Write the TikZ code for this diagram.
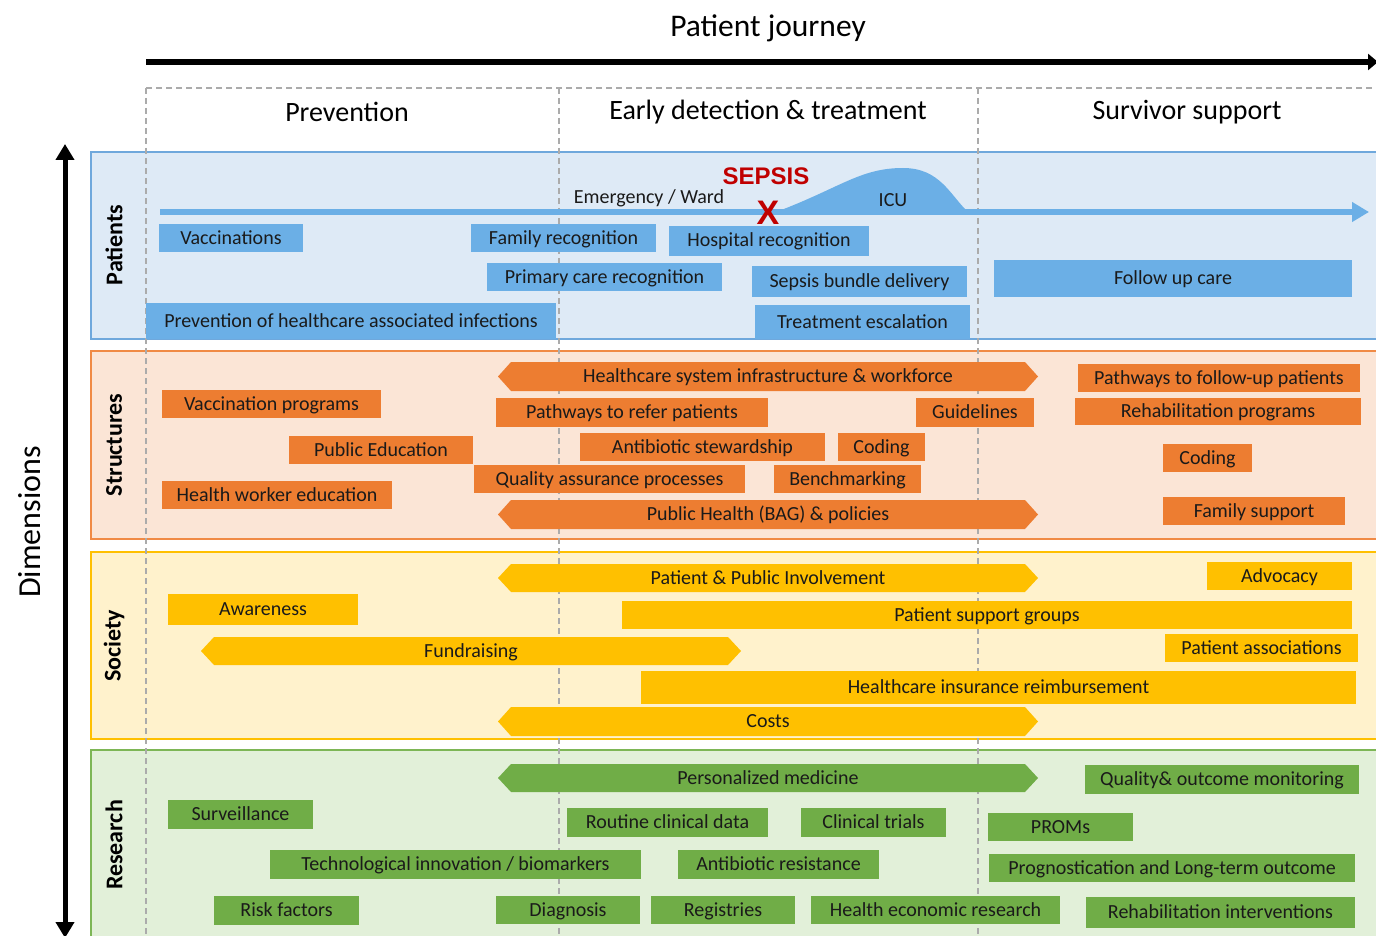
\documentclass[tikz,border=0pt]{standalone}
\usepackage{fontspec}
\setmainfont{Carlito}
\newfontfamily\arialfont{Liberation Sans}
\usetikzlibrary{arrows.meta}
\definecolor{bbox}{HTML}{6BAFE6}
\definecolor{bfill}{HTML}{DEEAF6}
\definecolor{bline}{HTML}{6FA8DC}
\definecolor{obox}{HTML}{ED7D31}
\definecolor{ofill}{HTML}{FBE5D6}
\definecolor{oline}{HTML}{F08A45}
\definecolor{ybox}{HTML}{FFC000}
\definecolor{yfill}{HTML}{FFF2CC}
\definecolor{yline}{HTML}{FFC000}
\definecolor{gbox}{HTML}{70AD47}
\definecolor{gfill}{HTML}{E2F0D9}
\definecolor{gline}{HTML}{7DB656}
\definecolor{dashgray}{HTML}{ABABAB}
\definecolor{sepsisred}{HTML}{C00000}
\definecolor{txt}{HTML}{1A1A1A}
\tikzset{
  bx/.style={inner sep=0pt, text=txt, font=\fontsize{20}{24}\selectfont, text height=15pt, text depth=3pt},
  lbl/.style={inner sep=0pt, text=txt, font=\fontsize{20}{24}\selectfont, text height=15pt, text depth=3pt},
  band/.style={line width=1.5pt},
  bandlbl/.style={rotate=90, font=\bfseries\fontsize{24}{28}\selectfont, text=black},
  colhead/.style={font=\fontsize{28}{33}\selectfont, text=black},
  grid/.style={dashgray, line width=1.5pt, dash pattern=on 6pt off 4pt}
}
\newcommand\bx[7]{\node[bx,fill=#6,minimum width={(#3-#2)*1pt},minimum height={(#5-#4)*1pt}] (#1) at ({(#2+#3)/2},{(#4+#5)/2}) {#7};}
\newcommand\hx[7]{\fill[#6] (#2,{(#4+#5)/2}) -- ({#2+13},#4) -- ({#3-13},#4) -- (#3,{(#4+#5)/2}) -- ({#3-13},#5) -- ({#2+13},#5) -- cycle;
  \node[lbl] (#1) at ({(#2+#3)/2},{(#4+#5)/2}) {#7};}
\begin{document}
\begin{tikzpicture}[x=1pt,y=-1pt]
\clip (0,0) rectangle (1376,936);
\fill[white] (0,0) rectangle (1376,936);
% titles
\node[font=\fontsize{31.5}{36}\selectfont] (pj) at (768,28) {Patient journey};
\coordinate (pjs) at (146,62);
\coordinate (pje) at (1378,62);
\draw[line width=6pt,-{Triangle[length=10pt,width=16pt]}] (pjs) -- (pje);
\node[colhead] (prev) at (347,112) {Prevention};
\node[colhead] (early) at (768,112) {Early detection \& treatment};
\node[colhead] (surv) at (1187,112) {Survivor support};
% bands
\draw[band, draw=bline, fill=bfill] (91,152) rectangle (1390,339);
\draw[band, draw=oline, fill=ofill] (91,351) rectangle (1390,539);
\draw[band, draw=yline, fill=yfill] (91,552) rectangle (1390,739);
\draw[band, draw=gline, fill=gfill] (91,750) rectangle (1390,960);
\node[bandlbl] (lp) at (114,245) {Patients};
\node[bandlbl] (ls) at (114,445) {Structures};
\node[bandlbl] (lso) at (114,646) {Society};
\node[bandlbl] (lr) at (114,845) {Research};
% dimensions arrow
\coordinate (dt) at (65,144);
\coordinate (db) at (65,938);
\draw[line width=5pt,{Triangle[length=16pt,width=18pt]}-{Triangle[length=16pt,width=18pt]}] (dt) -- (db);
\node[rotate=90,font=\fontsize{32}{37}\selectfont] (dim) at (30,522) {Dimensions};
% dashed grid
\draw[grid] (146,88) -- (1380,88);
\draw[grid] (146,88) -- (146,940);
\draw[grid] (559,88) -- (559,940);
\draw[grid] (978,88) -- (978,940);
% patient timeline
\fill[bbox] (776,212) .. controls (840,188) and (860,168) .. (903,168) .. controls (940,168) and (950,195) .. (968,212) -- cycle;
\coordinate (ts) at (160,212);
\coordinate (te) at (1369,212);
\draw[bbox, line width=6pt, -{Triangle[length=17pt,width=19pt]}] (ts) -- (te);
\node[font=\fontsize{20}{24}\selectfont, text=txt] (ew) at (649,198) {Emergency / Ward};
\node[font=\fontsize{20}{24}\selectfont, text=txt] (icu) at (893,200) {ICU};
\node[font=\arialfont\bfseries\fontsize{24}{28}\selectfont, text=sepsisred] (sep) at (766,176) {SEPSIS};
\node[font=\arialfont\bfseries\fontsize{34}{38}\selectfont, text=sepsisred, inner sep=0pt] (x) at (768,213) {X};
% patient boxes
\bx{p1}{159}{303}{224}{252}{bbox}{Vaccinations}
\bx{p2}{471}{656}{224}{252}{bbox}{Family recognition}
\bx{p3}{669}{869}{226}{256}{bbox}{Hospital recognition}
\bx{p4}{487}{722}{263}{291}{bbox}{Primary care recognition}
\bx{p5}{752}{967}{266}{297}{bbox}{Sepsis bundle delivery}
\bx{p6}{994}{1352}{260}{297}{bbox}{Follow up care}
\bx{p7}{146}{556}{303}{339}{bbox}{Prevention of healthcare associated infections}
\bx{p8}{755}{970}{305}{339}{bbox}{Treatment escalation}
% structures
\hx{s1}{498}{1038}{362}{391}{obox}{Healthcare system infrastructure \& workforce}
\bx{s2}{162}{381}{390}{418}{obox}{Vaccination programs}
\bx{s3}{496}{768}{398}{427}{obox}{Pathways to refer patients}
\bx{s4}{916}{1034}{398}{427}{obox}{Guidelines}
\bx{s5}{1078}{1360}{364}{392}{obox}{Pathways to follow-up patients}
\bx{s6}{1075}{1361}{398}{425}{obox}{Rehabilitation programs}
\bx{s7}{289}{473}{436}{464}{obox}{Public Education}
\bx{s8}{580}{825}{433}{461}{obox}{Antibiotic stewardship}
\bx{s9}{838}{925}{433}{461}{obox}{Coding}
\bx{s10}{1163}{1252}{444}{472}{obox}{Coding}
\bx{s11}{474}{745}{465}{493}{obox}{Quality assurance processes}
\bx{s12}{774}{921}{465}{493}{obox}{Benchmarking}
\bx{s13}{162}{392}{481}{509}{obox}{Health worker education}
\hx{s14}{498}{1038}{500}{529}{obox}{Public Health (BAG) \& policies}
\bx{s15}{1163}{1345}{497}{525}{obox}{Family support}
% society
\hx{o1}{498}{1038}{564}{592}{ybox}{Patient \& Public Involvement}
\bx{o2}{1207}{1352}{562}{590}{ybox}{Advocacy}
\bx{o3}{168}{358}{594}{625}{ybox}{Awareness}
\bx{o4}{622}{1352}{601}{629}{ybox}{Patient support groups}
\hx{o5}{201}{741}{637}{665}{ybox}{Fundraising}
\bx{o6}{1165}{1358}{634}{662}{ybox}{Patient associations}
\bx{o7}{641}{1356}{671}{704}{ybox}{Healthcare insurance reimbursement}
\hx{o8}{498}{1038}{707}{736}{ybox}{Costs}
% research
\hx{r1}{498}{1038}{764}{792}{gbox}{Personalized medicine}
\bx{r2}{1085}{1359}{765}{794}{gbox}{Quality\& outcome monitoring}
\bx{r3}{168}{313}{800}{829}{gbox}{Surveillance}
\bx{r4}{567}{768}{808}{837}{gbox}{Routine clinical data}
\bx{r5}{801}{946}{808}{837}{gbox}{Clinical trials}
\bx{r6}{988}{1133}{813}{841}{gbox}{PROMs}
\bx{r7}{270}{641}{850}{879}{gbox}{Technological innovation / biomarkers}
\bx{r8}{678}{879}{850}{879}{gbox}{Antibiotic resistance}
\bx{r9}{989}{1355}{854}{882}{gbox}{Prognostication and Long-term outcome}
\bx{r10}{214}{359}{896}{925}{gbox}{Risk factors}
\bx{r11}{496}{640}{896}{924}{gbox}{Diagnosis}
\bx{r12}{651}{795}{896}{924}{gbox}{Registries}
\bx{r13}{811}{1060}{896}{924}{gbox}{Health economic research}
\bx{r14}{1086}{1355}{897}{928}{gbox}{Rehabilitation interventions}
\end{tikzpicture}
\end{document}
